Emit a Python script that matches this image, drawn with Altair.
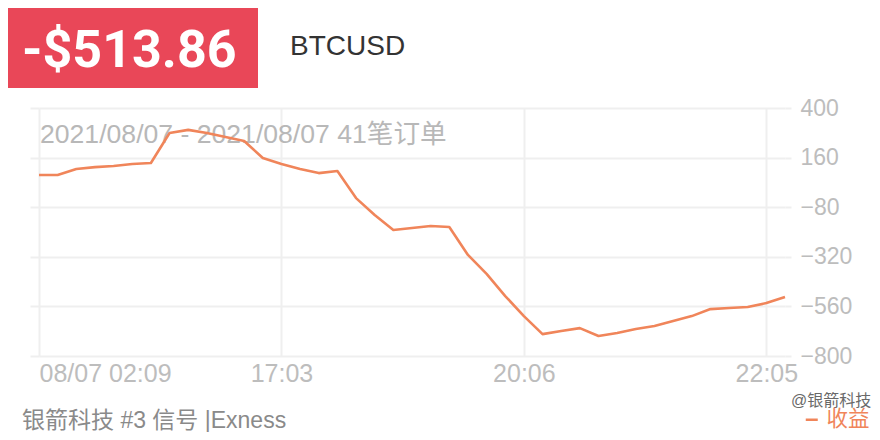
import altair as alt
import pandas as pd

# ---- data ----
order_idx = list(range(41))
profit = [76, 76, 105, 114, 119, 129, 134, 279, 294, 279, 260, 240, 158, 129,
          105, 85, 95, -36, -118, -190, -181, -171, -176, -311, -403, -510,
          -607, -694, -679, -665, -703, -689, -669, -655, -631, -607, -573,
          -568, -563, -544, -514]
series_name = ["收益"] * len(order_idx)
x_tick_idx = [0, 13, 26, 39]
x_tick_labels = ["08/07 02:09", "17:03", "20:06", "22:05"]
y_ticks = [-800, -560, -320, -80, 160, 400]
y_domain = [-800, 400]

header_value = "-$513.86"
symbol_name = "BTCUSD"
subtitle = "2021/08/07 - 2021/08/07 41笔订单"
footer = "银箭科技 #3 信号 |Exness"
watermark = "@银箭科技"

df = pd.DataFrame({"i": order_idx, "p": profit, "s": series_name})

label_expr = " : ".join(
    f"datum.value == {i} ? '{l}'" for i, l in zip(x_tick_idx, x_tick_labels)
) + " : ''"

FONT = "Liberation Sans, Noto Sans CJK SC, sans-serif"
GRID = "#efefef"
LINE = "#F0855A"
W, H = 746, 248


def txt(s):
    return alt.Chart(pd.DataFrame({"t": [s]}))


header_box = txt("box").mark_rect(color="#E94758").encode(
    x=alt.value(-31), x2=alt.value(219), y=alt.value(-100), y2=alt.value(-20)
)
header_text = txt(header_value).mark_text(
    font="Roboto", fontWeight="bold", fontSize=52, color="white",
    align="left", baseline="alphabetic"
).encode(x=alt.value(-17), y=alt.value(-41), text="t:N")
symbol_text = txt(symbol_name).mark_text(
    font=FONT, fontSize=28, color="#333333", align="left", baseline="alphabetic"
).encode(x=alt.value(251), y=alt.value(-53), text="t:N")
sub_text = txt(subtitle).mark_text(
    font=FONT, fontSize=26.6, color="#b8b8b8", align="left", baseline="alphabetic"
).encode(x=alt.value(1), y=alt.value(35), text="t:N")
footer_text = txt(footer).mark_text(
    font=FONT, fontSize=23, color="#8a8a8a", align="left", baseline="alphabetic"
).encode(x=alt.value(-17), y=alt.value(320), text="t:N")
wm_text = txt(watermark).mark_text(
    font=FONT, fontSize=16, color="#444444", opacity=0.8, align="left",
    baseline="alphabetic"
).encode(x=alt.value(752), y=alt.value(298), text="t:N")

line = alt.Chart(df).mark_line(strokeWidth=2.6, strokeJoin="round").encode(
    x=alt.X(
        "i:Q",
        scale=alt.Scale(domain=[0, 40], nice=False, zero=False),
        axis=alt.Axis(
            values=x_tick_idx, labelExpr=label_expr, grid=True,
            gridColor=GRID, gridWidth=2, domain=False, ticks=False,
            labelFlush=True, labelFontSize=25, labelColor="#bdbdbd",
            labelFont=FONT, labelPadding=5, title=None, labelOverlap=False,
        ),
    ),
    y=alt.Y(
        "p:Q",
        scale=alt.Scale(domain=y_domain, nice=False, zero=False),
        axis=alt.Axis(
            orient="right", values=y_ticks, grid=True, gridColor=GRID,
            gridWidth=2, domain=False, ticks=True, tickSize=6,
            tickColor=GRID, tickWidth=2, labelPadding=9, labelFontSize=23,
            labelColor="#bdbdbd", labelFont=FONT, labelBaseline="middle",
            title=None,
        ),
    ),
    color=alt.Color(
        "s:N",
        scale=alt.Scale(range=[LINE]),
        legend=alt.Legend(
            orient="none", legendX=762, legendY=301, title=None,
            symbolType="stroke", symbolSize=144, symbolStrokeWidth=2.5,
            labelFontSize=21.5, labelColor=LINE, labelFont=FONT, padding=0,
            labelOffset=4,
        ),
    ),
)

left_ext = alt.Chart(df).mark_point(opacity=0).encode(
    y=alt.Y(
        "p:Q",
        scale=alt.Scale(domain=y_domain, nice=False, zero=False),
        axis=alt.Axis(
            orient="left", values=y_ticks, labels=False, grid=False,
            domain=False, ticks=True, tickSize=9, tickColor=GRID,
            tickWidth=2, title=None,
        ),
    )
)

chart = alt.layer(
    header_box, header_text, symbol_text, sub_text, line, left_ext,
    footer_text, wm_text
).resolve_axis(y="independent").properties(
    width=W, height=H,
    autosize=alt.AutoSizeParams(type="none"),
    padding={"left": 31, "top": 100, "right": 87, "bottom": 76},
).configure_view(stroke=None)

chart.save("out.html", embed_options={"renderer": "svg", "actions": False})
